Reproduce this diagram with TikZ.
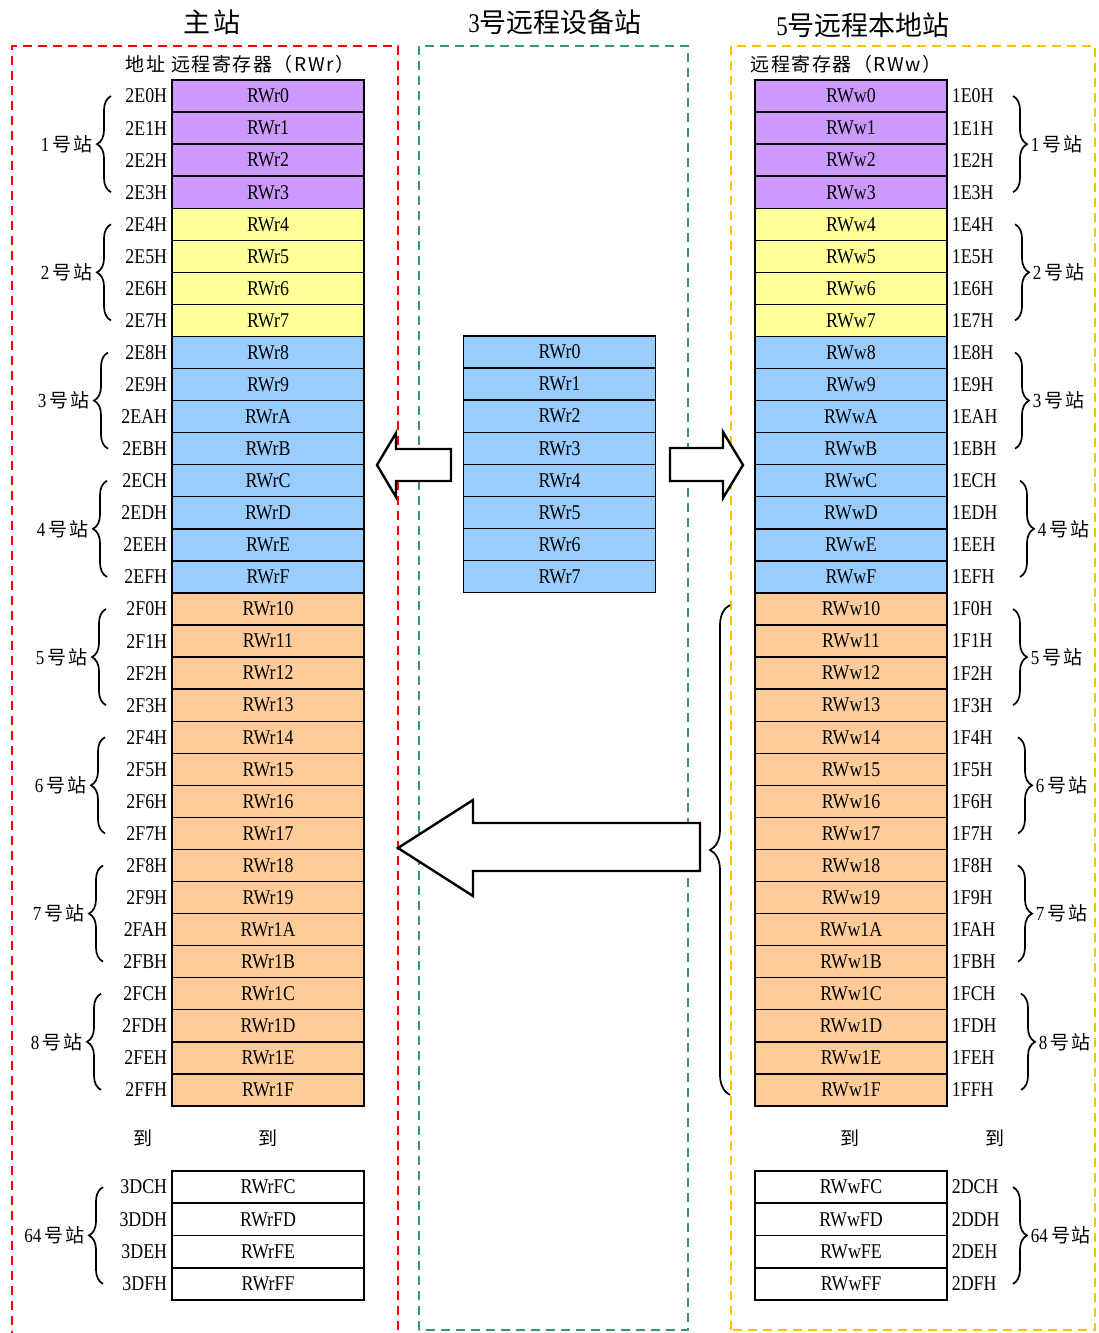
\documentclass[tikz,border=0pt]{standalone}
\usepackage{fontspec}
\setmainfont{Liberation Serif}[FakeStretch=0.85]
\newfontfamily\cjk{Noto Sans CJK SC}
\newfontfamily\cjkwide{Noto Sans CJK SC}[LetterSpace=8]
\usetikzlibrary{positioning,decorations.pathreplacing,calc}
\definecolor{RegPurple}{RGB}{204,153,255}
\definecolor{RegYellow}{RGB}{255,255,153}
\definecolor{RegBlue}{RGB}{153,204,255}
\definecolor{RegOrange}{RGB}{255,204,153}
\definecolor{ZoneGreen}{RGB}{51,153,102}
\definecolor{ZoneYellow}{RGB}{255,192,0}
\newcommand\regfont{\fontsize{21pt}{21pt}\selectfont}
\newcommand\grpfont{\fontsize{20pt}{20pt}\selectfont}
\newcommand\stlabel[1]{#1\,{\cjkwide\fontsize{19pt}{19pt}\selectfont 号站}}

\begin{document}
\begin{tikzpicture}[x=1pt,y=1pt,
cell/.style={draw,line width=1.4pt,minimum width=192pt,minimum height=32.06pt,inner sep=0pt,font=\regfont},
addr/.style={inner sep=0pt,font=\regfont},
brace/.style={decorate,decoration={brace,amplitude=14pt},line width=1.7pt},
grp/.style={font=\grpfont,inner sep=0pt},
zone/.style={dash pattern=on 9pt off 6pt,line width=2.4pt},
title/.style={font=\fontsize{27pt}{27pt}\selectfont},
head/.style={font=\cjkwide\fontsize{19pt}{19pt}\selectfont},
blockarrow/.style={draw,line width=2.4pt,fill=white,line join=miter}
]
\useasboundingbox (0,0) rectangle (1098,-1333);

% zones
\draw[zone,red] (12,-1340) |- (398,-46) -- (398,-1340);
\draw[zone,ZoneGreen] (419,-1330) rectangle (688,-46);
\draw[zone,ZoneYellow] (731,-1330) rectangle (1095,-46);

\node[title] (tmain) at (212,-22) {{\cjkwide 主站}};
\node[title] (tdev) at (555,-22) {3{\cjk 号远程设备站}};
\node[title] (tloc) at (863,-25) {5{\cjk 号远程本地站}};
\node[head] (hmain) at (240,-64) {地址 远程寄存器（RWr）};
\node[head] (hloc) at (846,-64) {远程寄存器（RWw）};

% registers 0..F
\foreach \lo/\col [count=\j from 0] in {0/RegPurple,1/RegPurple,2/RegPurple,3/RegPurple,4/RegYellow,5/RegYellow,6/RegYellow,7/RegYellow,8/RegBlue,9/RegBlue,A/RegBlue,B/RegBlue,C/RegBlue,D/RegBlue,E/RegBlue,F/RegBlue}{
  \node[cell,fill=\col] (mr\j) at (268,{-96.03-32.06*\j}) {RWr\lo};
  \node[addr,left=4pt of mr\j] (ma\j) {2E\lo{}H};
  \node[cell,fill=\col] (rw\j) at (851,{-96.03-32.06*\j}) {RWw\lo};
  \node[addr,right=4pt of rw\j] (ra\j) {1E\lo{}H};
}
% registers 10..1F
\foreach \lo [count=\j from 16] in {0,1,2,3,4,5,6,7,8,9,A,B,C,D,E,F}{
  \node[cell,fill=RegOrange] (mr\j) at (268,{-96.03-32.06*\j}) {RWr1\lo};
  \node[addr,left=4pt of mr\j] (ma\j) {2F\lo{}H};
  \node[cell,fill=RegOrange] (rw\j) at (851,{-96.03-32.06*\j}) {RWw1\lo};
  \node[addr,right=4pt of rw\j] (ra\j) {1F\lo{}H};
}
% last station
\foreach \lo [count=\j from 0] in {C,D,E,F}{
  \node[cell,fill=white] (ml\j) at (268,{-1187.1-32.25*\j}) {RWrF\lo};
  \node[addr,left=4pt of ml\j] {3D\lo{}H};
  \node[cell,fill=white] (rl\j) at (851,{-1187.1-32.25*\j}) {RWwF\lo};
  \node[addr,right=4pt of rl\j] {2D\lo{}H};
}
\node[head] (to1) at (143,-1138) {到};
\node[head] (to2) at (268,-1138) {到};
\node[head] (to3) at (850,-1138) {到};
\node[head] (to4) at (995,-1138) {到};

% remote device station
\foreach \i in {0,...,7}
  \node[cell,fill=RegBlue] (dv\i) at (559.5,{-352-32.1*\i}) {RWr\i};

% braces
\foreach \g/\bx/\rx [evaluate=\g as \a using int(4*\g-4), evaluate=\g as \b using int(4*\g-1)] in {1/111/1013,2/111/1015,3/108/1015,4/107/1020,5/106/1013,6/105/1018,7/103/1018,8/101/1021}{
  \draw[brace] (\bx,0 |- mr\b.center) -- node[grp,left=18pt]{\stlabel{\g}} (\bx,0 |- mr\a.center);
  \draw[brace] (\rx,0 |- rw\a.center) -- node[grp,right=17pt]{\stlabel{\g}} (\rx,0 |- rw\b.center);
}
\draw[brace] (103,0 |- ml3.center) -- node[grp,left=18pt]{\stlabel{64}} (103,0 |- ml0.center);
\draw[brace] (1013,0 |- rl0.center) -- node[grp,right=17pt]{\stlabel{64}} (1013,0 |- rl3.center);
\draw[brace,decoration={amplitude=20pt}] (730,-1095) -- (730,-605);

% transfer arrows
\draw[blockarrow] (377,-465) -- (396,-433) -- (396,-449) -- (451,-449) -- (451,-481) -- (396,-481) -- (396,-497) -- cycle;
\draw[blockarrow] (743,-465) -- (723,-432) -- (723,-448) -- (670,-448) -- (670,-481) -- (723,-481) -- (723,-498) -- cycle;
\draw[blockarrow] (398,-848) -- (473,-800) -- (473,-823) -- (700,-823) -- (700,-871) -- (473,-871) -- (473,-896) -- cycle;
\end{tikzpicture}
\end{document}
